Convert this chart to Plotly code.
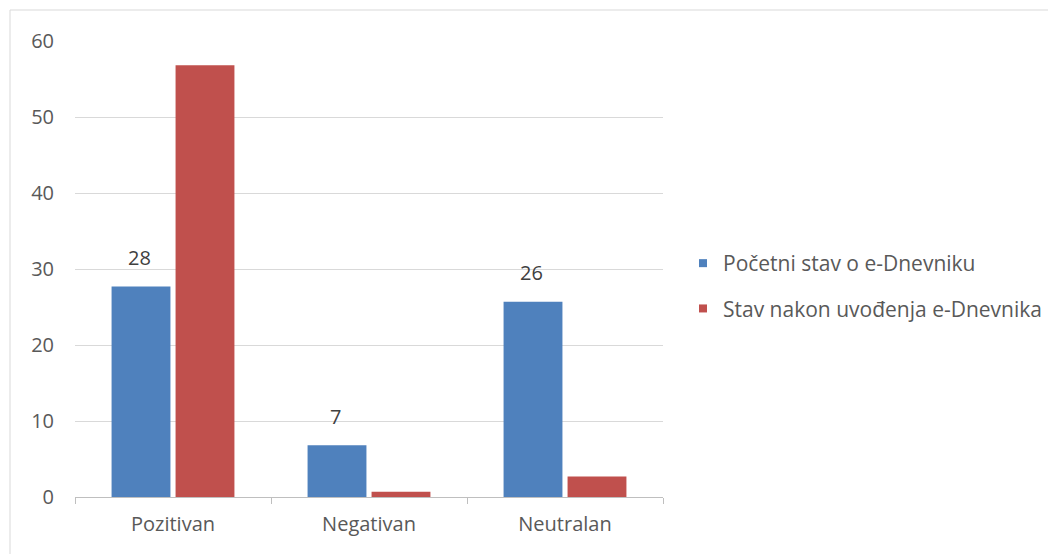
import plotly.graph_objects as go

categories = ["Pozitivan", "Negativan", "Neutralan"]
series_names = ["Početni stav o e-Dnevniku", "Stav nakon uvođenja e-Dnevnika"]
initial_values = [27.7, 6.8, 25.7]
after_values = [56.8, 0.7, 2.7]
y_ticks = [0, 10, 20, 30, 40, 50, 60]
colors = ["#4f81bd", "#c0504d"]

# page body has an 8px margin, so the figure is shifted by 8px
OFF = 8
W, H = 1056 - OFF, 554 - OFF
L, T = 75 - OFF, 41 - OFF
R = W - (663 - OFF)
B = H - (497 - OFF)
FONT = "'Open Sans', 'Noto Sans', sans-serif"
TXT = "#595959"
FS = 20

fig = go.Figure()
for name, vals, col in zip(series_names, [initial_values, after_values], colors):
    fig.add_trace(go.Bar(x=categories, y=vals, name=name,
                         marker=dict(color=col, line=dict(width=0)),
                         showlegend=False))
for i, (name, col) in enumerate(zip(series_names, colors)):
    fig.add_trace(go.Scatter(x=[None], y=[None], mode="markers", name=name,
                             marker=dict(symbol="square", size=8, color=col),
                             legendgroup=str(i), showlegend=True))

for c, v in zip(categories, initial_values):
    fig.add_annotation(x=c, y=v, text=f"{v:.0f}", showarrow=False,
                       xshift=-34, yshift=29, yanchor="middle",
                       font=dict(family=FONT, size=20, color="#404040"))

pw = W - L - R
ph = H - T - B
# chart-area border: only left and top edges fall inside the picture
fig.add_shape(type="rect", xref="paper", yref="paper",
              x0=(10 - OFF - L) / pw, x1=(W + 20 - L) / pw,
              y0=-(B + 20) / ph, y1=(H - (10 - OFF) - B) / ph,
              line=dict(color="#d9d9d9", width=1), layer="below")

fig.update_layout(
    width=W, height=H,
    margin=dict(l=L, r=R, t=T, b=B, autoexpand=False),
    paper_bgcolor="white", plot_bgcolor="white",
    barmode="group", bargap=0.347, bargroupgap=0.08,
    font=dict(family=FONT, size=FS, color=TXT),
    legend=dict(x=(683 - OFF - L) / pw, y=(H - B - (286 - OFF)) / ph,
                xanchor="left", yanchor="middle",
                font=dict(family=FONT, size=21, color=TXT),
                traceorder="grouped", tracegroupgap=15,
                itemwidth=30),
    xaxis=dict(showgrid=False, showline=True, linecolor="#bfbfbf", linewidth=1,
               ticks="outside", tickson="boundaries", ticklen=6, tickcolor="#bfbfbf",
               ticklabelstandoff=9,
               tickfont=dict(size=FS, color=TXT)),
    yaxis=dict(range=[0, 60], tickvals=y_ticks, showgrid=True, gridcolor="#d9d9d9",
               gridwidth=1, zeroline=False, showline=False, ticks="",
               ticklabelstandoff=20,
               tickfont=dict(size=FS, color=TXT)),
)

fig.write_html("out.html")
